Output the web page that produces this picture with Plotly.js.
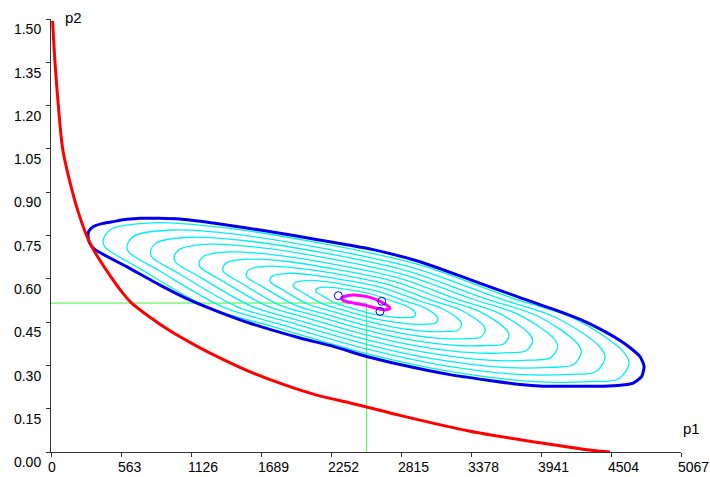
<!DOCTYPE html>
<html><head><meta charset="utf-8">
<script src="https://cdn.plot.ly/plotly-3.0.1.min.js"></script>
<style>html,body{margin:0;padding:0;background:#fff}</style>
</head><body><div id="chart" style="width:710px;height:477px"></div>
<script>
const xTickVals = [0, 563, 1126, 1689, 2252, 2815, 3378, 3941, 4504, 5067];
const yTickVals = [0, 0.15, 0.30, 0.45, 0.60, 0.75, 0.90, 1.05, 1.20, 1.35, 1.50];

const redX = [13, 32, 59, 94, 173, 220, 287, 340, 475, 571, 649, 796, 957, 1172, 1386, 1627, 1868, 2137, 2405, 2539, 2807, 3370, 3933, 4362, 4496];
const redY = [1.493, 1.350, 1.200, 1.050, 0.900, 0.830, 0.749, 0.702, 0.611, 0.554, 0.516, 0.467, 0.420, 0.367, 0.320, 0.273, 0.234, 0.197, 0.170, 0.156, 0.127, 0.072, 0.032, 0.005, 0];

const blueX = [298, 302, 322, 362, 421, 501, 609, 716, 1038, 1305, 1574, 1842, 2110, 2378, 2592, 2968, 3370, 3772, 4094, 4295, 4456, 4577, 4673, 4738, 4770, 4751, 4683, 4577, 4440, 4174, 3957, 3772, 3209, 2807, 2539, 2270, 2003, 1601, 1359, 1118, 877, 609, 354, 314, 298];
const blueY = [0.746, 0.763, 0.775, 0.785, 0.792, 0.798, 0.806, 0.810, 0.807, 0.793, 0.776, 0.758, 0.738, 0.718, 0.701, 0.659, 0.597, 0.535, 0.486, 0.452, 0.417, 0.386, 0.356, 0.330, 0.297, 0.262, 0.239, 0.231, 0.228, 0.228, 0.228, 0.234, 0.268, 0.303, 0.331, 0.366, 0.395, 0.446, 0.484, 0.526, 0.578, 0.642, 0.701, 0.721, 0.746];

// cyan contour lines, outermost to innermost
const cyan1X = [419, 479, 814, 1371, 2133, 2944, 3705, 4213, 4593, 4649, 4567, 4337, 3880, 3172, 2539, 1778, 1270, 713, 434, 419];
const cyan1Y = [0.734, 0.771, 0.794, 0.778, 0.726, 0.651, 0.534, 0.461, 0.352, 0.309, 0.254, 0.244, 0.244, 0.282, 0.341, 0.435, 0.500, 0.636, 0.710, 0.734];
const cyan2X = [611, 666, 970, 1477, 2169, 2907, 3598, 4060, 4406, 4456, 4382, 4173, 3757, 3114, 2538, 1846, 1385, 878, 624, 611];
const cyan2Y = [0.714, 0.748, 0.769, 0.755, 0.707, 0.639, 0.533, 0.466, 0.368, 0.328, 0.278, 0.269, 0.269, 0.303, 0.357, 0.442, 0.502, 0.626, 0.693, 0.714];
const cyan3X = [800, 850, 1124, 1581, 2205, 2870, 3493, 3909, 4220, 4266, 4199, 4010, 3636, 3056, 2537, 1914, 1498, 1041, 813, 800];
const cyan3Y = [0.695, 0.725, 0.744, 0.731, 0.689, 0.627, 0.531, 0.472, 0.382, 0.347, 0.302, 0.293, 0.293, 0.324, 0.373, 0.450, 0.503, 0.615, 0.675, 0.695];
const cyan4X = [990, 1034, 1278, 1685, 2240, 2832, 3387, 3758, 4035, 4076, 4016, 3848, 3515, 2999, 2536, 1981, 1611, 1205, 1001, 990];
const cyan4Y = [0.675, 0.702, 0.720, 0.708, 0.670, 0.615, 0.530, 0.477, 0.397, 0.366, 0.326, 0.318, 0.318, 0.346, 0.389, 0.457, 0.505, 0.604, 0.658, 0.675];
const cyan5X = [1191, 1229, 1442, 1795, 2278, 2793, 3275, 3597, 3839, 3874, 3822, 3676, 3386, 2937, 2535, 2053, 1731, 1377, 1200, 1191];
const cyan5Y = [0.655, 0.678, 0.693, 0.683, 0.650, 0.603, 0.528, 0.482, 0.413, 0.385, 0.351, 0.344, 0.344, 0.368, 0.406, 0.465, 0.507, 0.593, 0.640, 0.655];
const cyan6X = [1381, 1413, 1596, 1899, 2314, 2756, 3170, 3446, 3653, 3684, 3639, 3514, 3265, 2880, 2535, 2121, 1844, 1541, 1389, 1381];
const cyan6Y = [0.635, 0.656, 0.668, 0.660, 0.631, 0.591, 0.527, 0.487, 0.428, 0.404, 0.374, 0.369, 0.369, 0.389, 0.422, 0.473, 0.508, 0.582, 0.623, 0.635];
const cyan7X = [1570, 1598, 1750, 2003, 2349, 2718, 3064, 3295, 3468, 3493, 3456, 3351, 3144, 2822, 2534, 2188, 1957, 1704, 1577, 1570];
const cyan7Y = [0.616, 0.633, 0.644, 0.636, 0.613, 0.579, 0.525, 0.492, 0.443, 0.423, 0.398, 0.393, 0.393, 0.411, 0.438, 0.480, 0.510, 0.572, 0.605, 0.616];
const cyan8X = [1760, 1782, 1904, 2107, 2385, 2681, 2959, 3144, 3282, 3303, 3273, 3189, 3022, 2764, 2533, 2256, 2071, 1867, 1766, 1760];
const cyan8Y = [0.597, 0.610, 0.619, 0.613, 0.594, 0.567, 0.524, 0.497, 0.458, 0.442, 0.422, 0.418, 0.418, 0.432, 0.454, 0.488, 0.511, 0.561, 0.588, 0.597];
const cyan9X = [1950, 1966, 2058, 2212, 2421, 2644, 2853, 2993, 3097, 3112, 3090, 3027, 2901, 2707, 2532, 2323, 2184, 2031, 1954, 1950];
const cyan9Y = [0.577, 0.587, 0.594, 0.590, 0.575, 0.555, 0.522, 0.502, 0.473, 0.461, 0.446, 0.443, 0.443, 0.453, 0.469, 0.495, 0.513, 0.551, 0.571, 0.577];
const cyan10X = [2128, 2140, 2204, 2310, 2454, 2609, 2754, 2850, 2923, 2933, 2918, 2874, 2787, 2652, 2532, 2387, 2290, 2184, 2131, 2128];
const cyan10Y = [0.559, 0.566, 0.571, 0.568, 0.558, 0.543, 0.521, 0.507, 0.487, 0.478, 0.468, 0.466, 0.466, 0.473, 0.484, 0.502, 0.515, 0.541, 0.555, 0.559];

const magX = [2338, 2405, 2485, 2566, 2646, 2727, 2686, 2606, 2539, 2431, 2351, 2338];
const magY = [0.5335, 0.543, 0.5425, 0.5356, 0.5218, 0.499, 0.493, 0.499, 0.507, 0.516, 0.525, 0.5335];

const ptX = [2311, 2660, 2646];
const ptY = [0.5415, 0.522, 0.487];

const estX = 2539, estY = 0.516;
const greenX = [0, estX, estX];
const greenY = [estY, estY, 0];

const cyanSets = [
  [cyan1X, cyan1Y], [cyan2X, cyan2Y], [cyan3X, cyan3Y], [cyan4X, cyan4Y], [cyan5X, cyan5Y],
  [cyan6X, cyan6Y], [cyan7X, cyan7Y], [cyan8X, cyan8Y], [cyan9X, cyan9Y], [cyan10X, cyan10Y]
];

const traces = [];
traces.push({x: greenX, y: greenY, mode: 'lines', line: {color: '#3ef03e', width: 1}});
cyanSets.forEach(([cx, cy]) => {
  traces.push({x: cx, y: cy, mode: 'lines', line: {color: '#00f0f0', width: 1.3, shape: 'spline', smoothing: 0.9}});
});
traces.push({x: blueX, y: blueY, mode: 'lines', line: {color: '#0000ee', width: 3, shape: 'spline', smoothing: 0.6}});
traces.push({x: redX, y: redY, mode: 'lines', line: {color: '#ff0000', width: 3, shape: 'spline', smoothing: 0.8}});
traces.push({x: magX, y: magY, mode: 'lines', line: {color: '#ff00ff', width: 3, shape: 'spline', smoothing: 0.8}});
traces.push({x: ptX, y: ptY, mode: 'markers', marker: {symbol: 'circle-open', size: 8, color: '#0000ee', line: {width: 1}}});

const fontFam = 'Liberation Sans, Arial, sans-serif';
const layout = {
  width: 710, height: 477,
  margin: {l: 51, r: 29, t: 19, b: 25, pad: 0},
  paper_bgcolor: '#fff', plot_bgcolor: '#fff',
  showlegend: false,
  font: {family: fontFam, size: 14, color: '#000'},
  xaxis: {
    range: [0, 5067], tickvals: xTickVals, ticktext: xTickVals.map(String),
    showgrid: false, zeroline: false, showline: true, linecolor: '#333', linewidth: 1,
    ticks: 'outside', ticklen: 4, tickcolor: '#333',
    ticklabelposition: 'outside right', ticklabelshift: -4, ticklabelstandoff: 2,
    tickfont: {family: fontFam, size: 14, color: '#000'}
  },
  yaxis: {
    range: [0, 1.5], tickvals: yTickVals, ticktext: yTickVals.map(v => v.toFixed(2)),
    showgrid: false, zeroline: false, showline: true, linecolor: '#333', linewidth: 1,
    ticks: 'outside', ticklen: 4, tickcolor: '#333',
    ticklabelposition: 'outside bottom', ticklabelstandoff: 6,
    tickfont: {family: fontFam, size: 14, color: '#000'}
  },
  annotations: [
    {text: 'p2', xref: 'paper', yref: 'paper', x: 0, y: 1, xshift: 12, yshift: 2, xanchor: 'left', yanchor: 'middle', showarrow: false, font: {family: fontFam, size: 15, color: '#000'}},
    {text: 'p1', xref: 'paper', yref: 'paper', x: 1, y: 0, xshift: 0, yshift: 24, xanchor: 'left', yanchor: 'middle', showarrow: false, font: {family: fontFam, size: 15, color: '#000'}}
  ]
};
Plotly.newPlot('chart', traces, layout, {displayModeBar: false, staticPlot: true});
</script></body></html>
